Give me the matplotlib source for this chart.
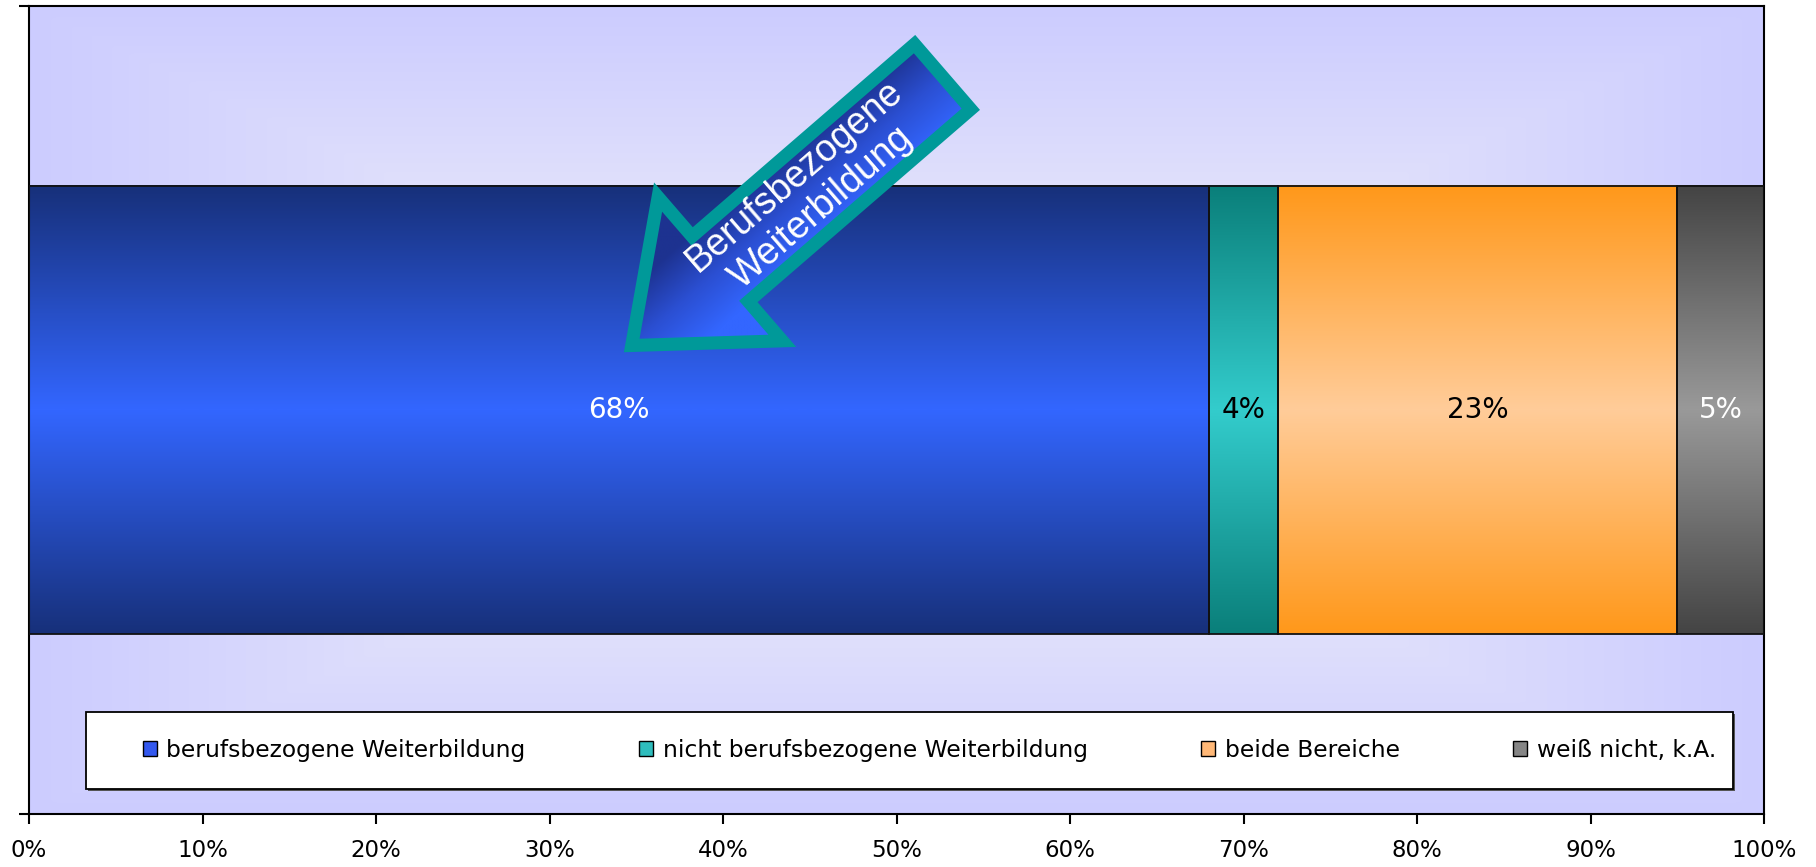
import numpy as np
import matplotlib
matplotlib.use("Agg")
import matplotlib.pyplot as plt
from matplotlib.colors import LinearSegmentedColormap
from matplotlib.patches import Patch, Polygon, Rectangle
from matplotlib.ticker import FuncFormatter

# ── data ──────────────────────────────────────────────────────────
categories = [
    "berufsbezogene Weiterbildung",
    "nicht berufsbezogene Weiterbildung",
    "beide Bereiche",
    "weiß nicht, k.A.",
]
shares = [68, 4, 23, 5]
x_ticks = list(range(0, 101, 10))
callout_text = "Berufsbezogene\nWeiterbildung"

# ── styling ───────────────────────────────────────────────────────
edge_cols = ["#17307a", "#0a7f7a", "#ff981a", "#444444"]
mid_cols = ["#3366ff", "#33cccc", "#ffcc99", "#999999"]
legend_cols = ["#3358ee", "#2fbdbd", "#ffb877", "#858585"]
label_cols = ["white", "black", "black", "white"]
BAR_H = 0.5545

W, H = 1816, 867
fig = plt.figure(figsize=(W / 100, H / 100), dpi=100)
ax = fig.add_axes([29 / W, 1 - 814 / H, 1735 / W, 808 / H])

# background: rectangular gradient, lighter towards the middle
nx, ny = 400, 200
gx = np.abs(np.linspace(-1, 1, nx))[None, :]
gy = np.abs(np.linspace(-1, 1, ny))[:, None]
t = np.maximum(gx, gy)
bg_cmap = LinearSegmentedColormap.from_list("bg", ["#f4f4fd", "#e2e2fb", "#ccccff"])
ax.imshow(t, cmap=bg_cmap, extent=(0, 100, -0.5, 0.5), aspect="auto",
          zorder=0, interpolation="bilinear")

# stacked bar, each segment with a vertical gradient
prof = 1 - np.abs(np.linspace(-1, 1, 256))[:, None]
left = 0
for cat, val, ec, mc, lc in zip(categories, shares, edge_cols, mid_cols, label_cols):
    cmap = LinearSegmentedColormap.from_list(cat, [ec, mc])
    ax.imshow(prof, cmap=cmap, extent=(left, left + val, -BAR_H / 2, BAR_H / 2),
              aspect="auto", zorder=2, interpolation="bilinear")
    ax.barh(0, val, left=left, height=BAR_H, facecolor="none",
            edgecolor="#111111", linewidth=1.3, zorder=3)
    ax.text(left + val / 2, 0, f"{val}%", ha="center", va="center",
            fontsize=20, color=lc, zorder=4)
    left += val

ax.set_xlim(0, 100)
ax.set_ylim(-0.5, 0.5)
ax.set_xticks(x_ticks)
ax.xaxis.set_major_formatter(FuncFormatter(lambda v, p: f"{v:.0f}%"))
ax.set_yticks([-0.5, 0.5])
ax.set_yticklabels([])
ax.tick_params(direction="out", length=7, width=1.5, labelsize=16.5, pad=11)
for sp in ax.spines.values():
    sp.set_linewidth(1.5)
    sp.set_color("black")

# legend box with a small drop shadow
bx0, by0, bw, bh = 0.0329, 0.0309, 0.9491, 0.0953
ax.add_patch(Rectangle((bx0 + 0.0012, by0 - 0.003), bw, bh, transform=ax.transAxes,
                       facecolor="#555555", edgecolor="none", zorder=4))
ax.add_patch(Rectangle((bx0, by0), bw, bh, transform=ax.transAxes,
                       facecolor="white", edgecolor="black", linewidth=1.3, zorder=5))
handles = [Patch(facecolor=c, edgecolor="black", linewidth=1.0) for c in legend_cols]
leg = ax.legend(handles, categories, ncol=4, mode="expand", loc="center",
                bbox_to_anchor=(0.0657, 0.0586, 0.9066, 0.04), frameon=False,
                fontsize=16.8, handlelength=0.6, handleheight=0.6,
                handletextpad=0.4, borderpad=0, borderaxespad=0)
leg.set_zorder(6)

# call-out arrow drawn in pixel space on top of everything
ov = fig.add_axes([0, 0, 1, 1])
ov.set_xlim(0, W)
ov.set_ylim(H, 0)
ov.axis("off")
ov.patch.set_visible(False)

tip = np.array([623.0, 353.0])
U = np.array([0.7566, -0.654])   # along the shaft, tip -> tail
V = np.array([0.654, 0.7566])    # across the shaft
local = [(11.5, 0), (128.5, -95.0), (128.5, -43.0), (422.5, -43.0),
         (422.5, 43.0), (128.5, 43.0), (128.5, 95.0)]
pts = np.array([tip + u * U + v * V for u, v in local])

fill = Polygon(pts, closed=True, facecolor="none", edgecolor="none")
ov.add_patch(fill)
x0, y0 = pts.min(axis=0) - 10
x1, y1 = pts.max(axis=0) + 10
gxx, gyy = np.meshgrid(np.linspace(x0, x1, 300), np.linspace(y0, y1, 300))
proj = (gxx - tip[0]) * V[0] + (gyy - tip[1]) * V[1]
proj = np.clip((proj + 45) / 90, 0, 1)
arrow_cmap = LinearSegmentedColormap.from_list("arr", ["#1d3290", "#2b4fd2", "#3366ff"])
im = ov.imshow(proj, cmap=arrow_cmap, extent=(x0, x1, y1, y0), aspect="auto",
               interpolation="bilinear", zorder=7)
im.set_clip_path(fill)
ov.add_patch(Polygon(pts, closed=True, facecolor="none", edgecolor="#009999",
                     linewidth=9.4, joinstyle="miter", zorder=8))
ov.text(808, 192, callout_text, rotation=40.8, rotation_mode="anchor",
        ha="center", va="center", color="white", fontsize=27,
        family="Liberation Sans", linespacing=1.2, zorder=9)
ov.set_xlim(0, W)
ov.set_ylim(H, 0)

fig.savefig("out.png", dpi=100)
